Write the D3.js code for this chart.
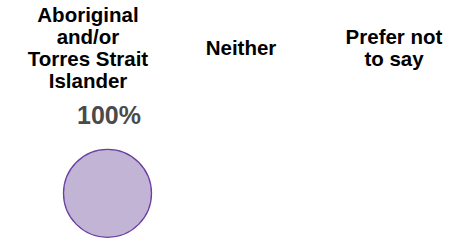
<!DOCTYPE html>
<html>
<head>
<meta charset="utf-8">
<script src="https://cdn.jsdelivr.net/npm/d3@7/dist/d3.min.js"></script>
<style>
  body { margin: 0; background: #fff; }
  svg { display: block; font-family: "Liberation Sans", Arial, sans-serif; }
</style>
</head>
<body>
<div id="chart"></div>
<script>
// categories and their label lines
var categories = ["Aboriginal and/or Torres Strait Islander", "Neither", "Prefer not to say"];
var labelLines = [
    ["Aboriginal", "and/or", "Torres Strait", "Islander"],
    ["Neither"],
    ["Prefer not", "to say"]
];
// share of respondents, percent
var percentages = [100, 0, 0];

var width = 465, height = 240;

var data = categories.map(function (c, i) {
    return { category: c, lines: labelLines[i], value: percentages[i] };
});

var svg = d3.select("#chart")
    .append("svg")
    .attr("width", width)
    .attr("height", height);

// label columns
var xLabel = d3.scalePoint()
    .domain(categories)
    .range([88, 394]);

// bubble row sits a little right of the labels
var xBubble = d3.scalePoint()
    .domain(categories)
    .range([108, 414]);

var rScale = d3.scaleSqrt()
    .domain([0, 100])
    .range([0, 44]);

var lineHeight = 22;
var labelMid = 55;

// header labels, vertically centred on a common line
var labels = svg.selectAll("text.label")
    .data(data)
    .enter()
    .append("text")
    .attr("class", "label")
    .attr("text-anchor", "middle")
    .style("font-size", "20.5px")
    .style("font-weight", "bold")
    .style("fill", "#000");

labels.selectAll("tspan")
    .data(function (d) {
        var n = d.lines.length;
        return d.lines.map(function (l, i) {
            return { text: l, x: xLabel(d.category), y: labelMid + (i - (n - 1) / 2) * lineHeight };
        });
    })
    .enter()
    .append("tspan")
    .attr("x", function (d) { return d.x; })
    .attr("y", function (d) { return d.y; })
    .text(function (d) { return d.text; });

// only categories with a value get a bubble
var shown = data.filter(function (d) { return d.value > 0; });

svg.selectAll("text.pct")
    .data(shown)
    .enter()
    .append("text")
    .attr("class", "pct")
    .attr("x", function (d) { return xBubble(d.category) + 1; })
    .attr("y", 124)
    .attr("text-anchor", "middle")
    .style("font-size", "25px")
    .style("font-weight", "bold")
    .style("fill", "#4a4a4a")
    .text(function (d) { return d.value + "%"; });

svg.selectAll("circle")
    .data(shown)
    .enter()
    .append("circle")
    .attr("cx", function (d) { return xBubble(d.category) - 0.5; })
    .attr("cy", 193.3)
    .attr("r", function (d) { return rScale(d.value); })
    .attr("fill", "#c2b4d4")
    .attr("stroke", "#6b3fa0")
    .attr("stroke-width", 1.3);
</script>
</body>
</html>
